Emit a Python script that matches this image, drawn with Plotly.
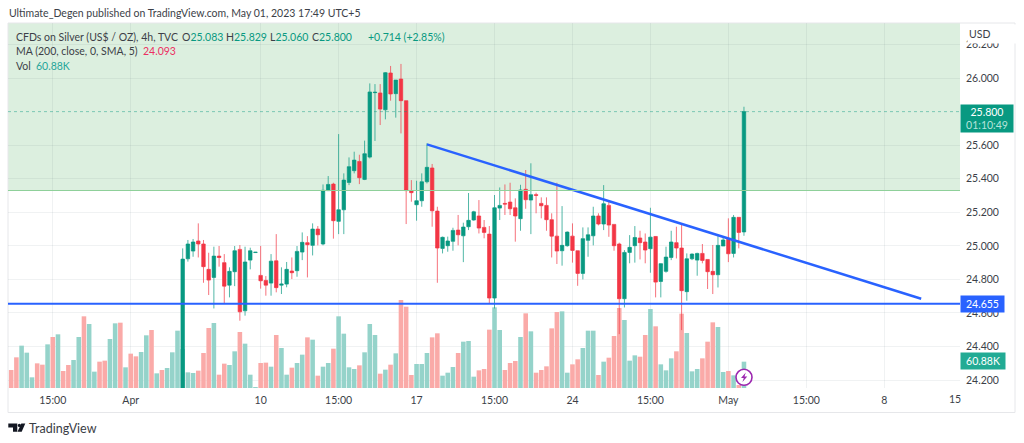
import plotly.graph_objects as go

# ---- data ----
opens = [24.151,24.923,24.969,25.029,25.011,24.860,24.812,24.939,24.900,24.766,
24.846,24.979,24.613,24.915,24.960,24.824,24.794,24.778,24.911,24.766,
24.772,24.850,24.852,24.963,25.019,25.003,25.100,25.011,25.329,25.368,
25.146,25.215,25.378,25.448,25.503,25.396,25.529,25.913,25.911,25.811,
26.030,25.907,25.994,25.865,25.329,25.245,25.269,25.382,25.464,25.207,
24.985,25.001,25.027,25.094,25.060,25.114,25.154,25.178,25.110,25.070,
24.689,25.225,25.253,25.261,25.227,25.162,25.337,25.273,25.305,25.253,
25.241,25.156,25.058,24.971,25.001,25.058,24.971,24.836,25.033,25.060,
25.178,25.130,25.241,25.128,25.011,24.685,24.961,25.001,25.047,25.023,
24.983,25.056,24.788,24.848,24.931,25.019,24.987,24.727,24.923,24.915,
24.955,24.919,24.848,24.828,24.999,25.039,24.955,25.170,25.083]
closes = [24.921,25.011,25.023,25.011,24.876,24.796,24.939,24.931,24.760,24.848,
24.971,24.607,24.904,24.971,24.962,24.792,24.766,24.909,24.751,24.772,
24.860,24.840,24.967,25.021,25.007,25.100,25.066,25.331,25.366,25.150,
25.215,25.392,25.472,25.511,25.406,25.549,25.917,25.915,25.815,26.032,
25.905,25.988,25.865,25.329,25.317,25.269,25.382,25.468,25.209,24.987,
25.051,25.029,25.092,25.066,25.112,25.152,25.203,25.106,25.080,24.689,
25.227,25.241,25.249,25.221,25.178,25.333,25.275,25.305,25.301,25.239,
25.156,25.058,24.969,25.003,25.082,24.973,24.836,25.043,25.066,25.178,
25.130,25.251,25.124,25.001,24.685,24.961,24.991,25.050,25.019,24.975,
25.052,24.784,24.894,24.933,25.023,24.987,24.733,24.923,24.951,24.955,
24.913,24.846,24.828,25.003,25.035,24.953,25.170,25.080,25.800]
highs = [24.985,25.035,25.041,25.134,25.035,24.959,24.995,24.999,24.951,24.872,
24.999,25.005,24.995,24.989,24.962,24.999,24.820,24.951,25.070,24.872,
24.904,24.931,24.999,25.080,25.058,25.134,25.118,25.366,25.416,25.376,
25.666,25.432,25.527,25.561,25.543,25.627,25.968,25.964,25.964,26.036,
26.072,25.988,26.084,25.865,25.392,25.388,25.432,25.611,25.488,25.233,
25.055,25.055,25.108,25.184,25.138,25.315,25.209,25.273,25.154,25.118,
25.303,25.348,25.366,25.376,25.283,25.364,25.452,25.492,25.317,25.289,
25.289,25.194,25.376,25.237,25.086,25.134,24.971,25.110,25.110,25.233,
25.194,25.362,25.273,25.128,25.019,24.975,25.064,25.118,25.090,25.074,
25.227,25.058,24.896,24.995,25.090,25.114,25.130,24.955,24.955,24.959,
25.011,24.919,25.005,25.058,25.050,25.164,25.184,25.170,25.829]
lows = [24.151,24.906,24.935,24.931,24.780,24.707,24.627,24.876,24.657,24.693,
24.760,24.554,24.584,24.860,24.960,24.745,24.703,24.703,24.723,24.713,
24.753,24.802,24.816,24.915,24.812,24.943,25.003,25.003,25.329,25.043,
25.070,25.070,25.362,25.432,25.368,25.392,25.521,25.625,25.720,25.754,
25.865,25.764,25.670,25.130,25.263,25.150,25.233,25.372,25.114,24.780,
24.955,24.965,24.971,25.003,24.903,25.094,25.150,25.074,25.045,24.657,
24.627,25.154,25.184,25.184,25.025,25.090,25.221,25.070,25.194,25.164,
25.090,24.931,24.892,24.882,24.995,24.900,24.762,24.800,24.935,25.003,
25.122,25.094,25.054,24.971,24.474,24.633,24.896,24.900,24.919,24.896,
24.840,24.693,24.693,24.840,24.915,24.925,24.498,24.673,24.915,24.822,
24.896,24.743,24.713,24.752,24.999,24.903,24.931,24.985,25.060]

volume_before = [41.6,70.9,97.9,81.7,24.7,57.0,53.9,100.9,117.9,124.1,39.3,53.2,64.7,117.9,165.7,148.0,37.8,60.9,63.2,113.3,149.5,151.0,47.8,79.4,73.2,83.2,121.8,134.1,33.9,41.6,46.2,82.5,132.5]
up_before = "RRGGGRRGRGRRGGRGGRRGGRGRRGGRGRGGG"
volume_candles = [90.0,
36.2,34.7,40.1,80.9,138.7,150.3,30.8,56.3,53.2,84.8,129.5,102.5,30.8,1.5,57.8,58.6,49.3,122.5,92.5,30.8,47.0,57.8,77.1,117.1,111.7,28.5,49.3,57.8,90.9,165.7,125.6,47.8,43.9,52.4,82.5,148.0,122.5,33.1,42.4,53.9,80.1,203.4,188.0,30.1,55.5,55.5,80.9,117.1,126.4,28.5,35.4,48.5,80.9,
107.1,108.7,26.2,40.8,43.9,134.9,186.5,134.1,41.6,57.8,62.4,117.9,172.6,131.0,35.4,41.6,50.1,137.9,175.7,177.2,35.4,54.7,66.3,92.5,132.5,132.5,30.1,60.9,70.1,120.2,184.9,157.2,63.2,75.5,72.4,122.5,182.6,142.6,54.7,40.8,68.6,84.8,171.8,127.1,38.5,43.9,68.6,107.1,151.8,141.0,37.0,39.3,29.3,6.9,60.88]

x_ticks = [8, 23, 48, 63, 78, 93, 108, 123, 138, 153, 168]
x_labels = ["15:00", "Apr", "10", "15:00", "17", "15:00", "24", "15:00", "May", "15:00", "8"]
y_ticks = [24.2, 24.4, 24.6, 24.8, 25.0, 25.2, 25.4, 25.6, 26.0, 26.2]
support_level = 24.655
zone_floor = 25.33
last_price = 25.80
trend_x = [80.0, 175.1]
trend_y = [25.605, 24.685]

# ---- layout geometry ----
W, H = 1024, 443
L, R, T, B = 8, 960, 23, 388
def px(x): return (x - L) / (R - L)
def py(y): return (B - y) / (B - T)

GREEN, RED = "#089981", "#f23645"
VG, VR = "#95d3ca", "#faaaa8"
BLUE = "#2962ff"
TXT = "#3c3f48"
GRID = "rgba(90,110,120,0.09)"
FONT = "Lato"

first = len(volume_before)
cx = list(range(first, first + len(opens)))
vx = list(range(first + len(opens)))
vols = volume_before + volume_candles
vcols = [VG if c == "G" else VR for c in up_before] + [VG if c >= o else VR for o, c in zip(opens, closes)]

fig = go.Figure()
fig.add_bar(x=vx, y=vols, marker=dict(color=vcols, line=dict(width=0)), yaxis="y", showlegend=False, hoverinfo="skip")
fig.add_candlestick(x=cx, open=opens, high=highs, low=lows, close=closes, yaxis="y2", showlegend=False,
    increasing=dict(fillcolor=GREEN, line=dict(color="rgba(8,153,129,0.7)", width=1)),
    decreasing=dict(fillcolor=RED, line=dict(color="rgba(242,54,69,0.7)", width=1)))
fig.add_scatter(x=trend_x, y=trend_y, mode="lines", yaxis="y2", line=dict(color=BLUE, width=2.5), showlegend=False, hoverinfo="skip")

shapes = [
    dict(type="rect", xref="paper", yref="y2", x0=0, x1=1, y0=zone_floor, y1=26.328, layer="below", line_width=0, fillcolor="#dcefdf"),
    dict(type="line", xref="paper", yref="y2", x0=0, x1=1, y0=zone_floor, y1=zone_floor, layer="above", line=dict(color="#8fd09a", width=1.2)),
    dict(type="line", xref="paper", yref="y2", x0=0, x1=1, y0=last_price, y1=last_price, layer="above", line=dict(color="rgba(8,153,129,0.45)", width=1, dash="dot")),
    dict(type="line", xref="paper", yref="y2", x0=0, x1=1, y0=support_level, y1=support_level, layer="above", line=dict(color=BLUE, width=2)),
    # outer frame
    dict(type="rect", xref="paper", yref="paper", x0=px(8), x1=px(1015), y0=py(412.5), y1=py(23), layer="below", line=dict(color="#e6e7ea", width=1)),
    # bolt badge
    dict(type="circle", xref="paper", yref="paper", x0=px(736), x1=px(752), y0=py(385.3), y1=py(369.3), layer="above", fillcolor="white", line=dict(color="#9c27b0", width=1.6)),
    dict(type="path", xref="paper", yref="paper", layer="above", line_width=0, fillcolor="#9c27b0",
         path="M %f %f L %f %f L %f %f L %f %f L %f %f L %f %f Z" % (px(745.8), py(372.6), px(741), py(378), px(743.8), py(378), px(742.4), py(382), px(747.3), py(376.4), px(744.5), py(376.4))),
    # logo
    dict(type="path", xref="paper", yref="paper", layer="above", line_width=0, fillcolor="#131722",
         path="M %f %f L %f %f L %f %f L %f %f L %f %f L %f %f Z" % (px(8.3), py(423.5), px(17.3), py(423.5), px(17.3), py(431.8), px(13), py(431.8), px(13), py(427.5), px(8.3), py(427.5))),
    dict(type="circle", xref="paper", yref="paper", layer="above", line_width=0, fillcolor="#131722", x0=px(17.8), x1=px(21), y0=py(427), y1=py(423.8)),
    dict(type="path", xref="paper", yref="paper", layer="above", line_width=0, fillcolor="#131722",
         path="M %f %f L %f %f L %f %f L %f %f Z" % (px(21.3), py(423.5), px(25.3), py(423.5), px(21.7), py(431.8), px(17.5), py(431.8))),
]

def note(text, x, y, size=10.5, color=TXT, anchor="left", **kw):
    return dict(text=text, xref="paper", yref="paper", x=px(x), y=py(y), xanchor=anchor, yanchor="middle",
                showarrow=False, font=dict(family=FONT, size=size, color=color), **kw)

G = lambda s: '<span style="color:%s">%s</span>' % (GREEN, s)
annotations = [
    note("Ultimate_Degen published on TradingView.com, May 01, 2023 17:49 UTC+5", 7, 13),
    note("CFDs on Silver (US$ / OZ), 4h, TVC", 13.5, 36.5),
    note("O" + G("25.083"), 179.5, 36.5),
    note("H" + G("25.829"), 223.5, 36.5),
    note("L" + G("25.060"), 267.5, 36.5),
    note("C" + G("25.800"), 309.5, 36.5),
    note(G("+0.714 (+2.85%)"), 366, 36.5),
    note("MA (200, close, 0, SMA, 5)", 13.5, 51.5),
    note('<span style="color:#ec2f62">24.093</span>', 140.5, 51.5),
    note("Vol", 13.5, 66),
    note('<span style="color:#26a69a">60.88K</span>', 33.5, 66),
    note("USD", 967, 34, bgcolor="white", width=46, height=16, align="left"),
    note("15", 955, 399, anchor="center"),
    note("25.800<br><span style='color:#b5e3da'>01:10:49</span>", 960, 118, color="white", bgcolor=GREEN, width=50, height=25, align="center"),
    note("24.655", 960, 303.7, color="white", bgcolor=BLUE, width=41, height=14, align="center"),
    note("60.88K", 960, 361.3, color="white", bgcolor="#22ab94", width=42, height=14, align="center"),
    note("TradingView", 27, 428, size=12.5, color="#3a3d45"),
]

fig.update_layout(
    width=W, height=H, margin=dict(l=L, r=W - R, t=T, b=H - B, autoexpand=False),
    paper_bgcolor="white", plot_bgcolor="white", bargap=0.12, boxgap=0.05, showlegend=False,
    font=dict(family=FONT, size=10.5, color=TXT),
    xaxis=dict(range=[-0.616, 182.57], tickmode="array", tickvals=x_ticks, ticktext=x_labels, showgrid=True,
               gridcolor=GRID, gridwidth=1, zeroline=False, showline=False, ticks="", rangeslider=dict(visible=False),
               tickfont=dict(family=FONT, size=10.5, color=TXT), ticklabelstandoff=4),
    yaxis=dict(range=[0, 843.8], visible=False, showgrid=False, fixedrange=True),
    yaxis2=dict(range=[24.153, 26.328], overlaying="y", side="right", anchor="x", tickmode="array", tickvals=y_ticks,
                tickformat=".3f", showgrid=True, gridcolor=GRID, gridwidth=1, zeroline=False, showline=False, ticks="",
                ticklabelstandoff=5, tickfont=dict(family=FONT, size=10.5, color=TXT)),
    shapes=shapes, annotations=annotations,
)
fig.write_html("out.html", post_script="document.body.style.margin='0';", config={"displayModeBar": False})
